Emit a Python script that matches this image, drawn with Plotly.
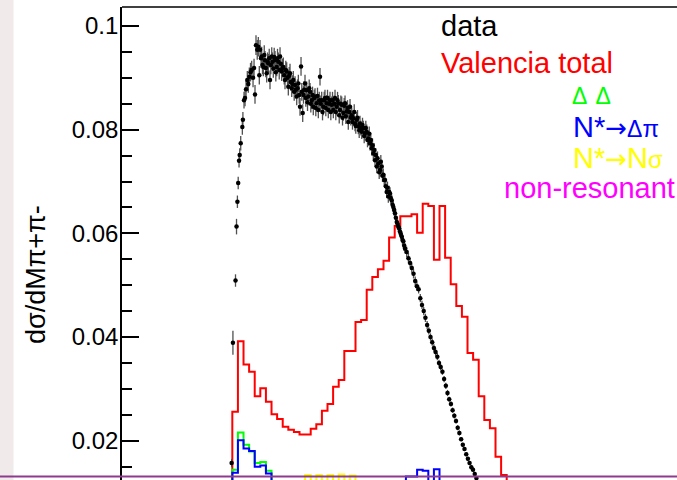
import plotly.graph_objects as go

# ---------------- data ----------------
# measured points: invariant mass M(pi+pi-) [MeV], dsigma/dM, stat. error
data_x = [278.8, 281.1, 285.7, 287.5, 289.1, 290.5, 292.0, 293.2, 295.0, 297.9,
          298.9, 300.9, 302.7, 304.5, 306.8, 308.6, 310.4, 312.5, 314.6, 317.0,
          318.8, 320.5, 322.3, 324.5, 326.4, 328.2, 329.5, 331.3, 333.9, 337.0,
          339.8, 342.9, 345.9, 347.3, 350.4, 353.2, 356.3, 359.3, 362.1, 365.2,
          368.2, 371.1, 374.1, 377.1, 380.0, 383.0, 386.1, 388.9, 392.0, 395.0,
          397.9, 400.9, 402.7, 405.7, 407.1, 409.8, 412.9, 415.7, 418.8, 421.8,
          424.6, 427.7, 430.7, 433.6, 436.6, 439.6, 442.5, 445.5, 448.6, 451.4,
          454.5, 457.5, 460.4, 463.4, 466.4, 469.3, 472.3, 475.4, 478.2, 481.3,
          484.3, 487.1, 490.2, 493.2, 496.1, 499.1, 502.1, 505.0, 508.0, 511.1,
          513.9, 517.0, 520.0, 522.9, 525.9, 528.9, 531.8, 534.8, 537.9, 540.7,
          543.8, 546.8, 549.6, 552.7, 555.7, 558.6, 561.6, 564.6, 567.5, 570.5,
          573.6, 576.4, 579.5, 582.5, 585.4, 588.4, 591.4, 594.5, 597.5, 600.5,
          603.6, 606.6, 609.6, 612.7, 615.7, 618.7, 621.8, 624.8, 627.9, 630.9,
          633.9, 637.0, 640.0, 643.0, 646.1, 649.1, 652.1, 655.2, 658.2, 661.3,
          664.3, 667.3, 670.4, 673.4, 676.4, 679.5, 682.5, 685.5, 688.6, 691.6,
          694.6, 697.7, 700.7, 703.7, 706.8, 709.8, 712.9, 715.9,
          # points lying between the ones above (dense plateau region)
          332.5, 335.4, 338.4, 341.4, 344.3, 348.8, 351.8, 354.8, 357.7, 360.7,
          363.8, 366.6, 369.6, 372.7, 375.5, 378.6, 381.6, 384.5, 387.5, 390.5,
          393.4, 396.4, 399.5, 404.1, 408.4, 411.3, 414.3, 417.3, 420.2, 423.2,
          426.3, 429.1, 432.1, 435.2, 438.0, 441.1, 444.1, 447.0, 450.0, 453.0,
          455.9, 458.9, 462.0, 464.8, 467.9, 470.9, 473.8, 476.8, 479.8, 482.7,
          485.7, 488.8, 491.6, 494.6, 497.7, 500.5, 503.6, 506.6, 509.5, 512.5,
          515.5, 518.4, 521.4, 524.5, 527.3, 530.4, 533.4, 536.3, 539.3, 542.3,
          545.2, 548.2, 551.3, 554.1, 557.1, 560.2, 563.0, 566.1, 569.1, 572.0,
          575.0, 578.0, 580.9, 583.9, 587.0]
data_y = [0.0157, 0.0389, 0.0509, 0.0613, 0.0661, 0.0697, 0.0740, 0.0751, 0.0774, 0.0805,
          0.0819, 0.0857, 0.0861, 0.0878, 0.0896, 0.0888, 0.0902, 0.0911, 0.0915, 0.0900,
          0.0919, 0.0868, 0.0963, 0.0954, 0.0960, 0.0905, 0.0954, 0.0938, 0.0925, 0.0944,
          0.0919, 0.0931, 0.0938, 0.0896, 0.0941, 0.0918, 0.0934, 0.0921, 0.0931, 0.0941,
          0.0912, 0.0921, 0.0896, 0.0912, 0.0883, 0.0909, 0.0880, 0.0896, 0.0886, 0.0864,
          0.0889, 0.0844, 0.0922, 0.0832, 0.0867, 0.0889, 0.0876, 0.0864, 0.0873, 0.0857,
          0.0844, 0.0864, 0.0851, 0.0838, 0.0902, 0.0857, 0.0844, 0.0861, 0.0851, 0.0838,
          0.0857, 0.0848, 0.0838, 0.0861, 0.0844, 0.0851, 0.0838, 0.0848, 0.0832, 0.0851,
          0.0835, 0.0815, 0.0844, 0.0828, 0.0822, 0.0812, 0.0819, 0.0806, 0.0812, 0.0796,
          0.0803, 0.0793, 0.0796, 0.0783, 0.0774, 0.0764, 0.0754, 0.0741, 0.0729, 0.0735,
          0.0722, 0.0729, 0.0713, 0.0703, 0.0680, 0.0671, 0.0677, 0.0664, 0.0651, 0.0639,
          0.0622, 0.0613, 0.0603, 0.0594, 0.0585, 0.0571, 0.0564, 0.0552, 0.0543, 0.0533,
          0.0522, 0.0508, 0.0498, 0.0492, 0.0475, 0.0462, 0.0450, 0.0437, 0.0423, 0.0412,
          0.0400, 0.0390, 0.0379, 0.0371, 0.0362, 0.0350, 0.0342, 0.0333, 0.0319, 0.0306,
          0.0292, 0.0280, 0.0271, 0.0259, 0.0248, 0.0238, 0.0225, 0.0215, 0.0203, 0.0192,
          0.0184, 0.0174, 0.0165, 0.0157, 0.0149, 0.0144, 0.0136, 0.0128,
          0.0941, 0.0921, 0.0934, 0.0909, 0.0928, 0.0925, 0.0931, 0.0940, 0.0911, 0.0938,
          0.0915, 0.0927, 0.0919, 0.0905, 0.0915, 0.0900, 0.0904, 0.0892, 0.0888, 0.0873,
          0.0877, 0.0880, 0.0867, 0.0873, 0.0877, 0.0861, 0.0853, 0.0880, 0.0850, 0.0867,
          0.0861, 0.0842, 0.0865, 0.0857, 0.0850, 0.0834, 0.0857, 0.0842, 0.0861, 0.0850,
          0.0834, 0.0857, 0.0850, 0.0834, 0.0857, 0.0828, 0.0850, 0.0823, 0.0846, 0.0826,
          0.0842, 0.0834, 0.0823, 0.0815, 0.0834, 0.0807, 0.0823, 0.0799, 0.0803, 0.0809,
          0.0788, 0.0803, 0.0780, 0.0792, 0.0780, 0.0770, 0.0761, 0.0751, 0.0745, 0.0718,
          0.0738, 0.0711, 0.0703, 0.0691, 0.0688, 0.0680, 0.0668, 0.0655, 0.0645, 0.0630,
          0.0618, 0.0610, 0.0599, 0.0587, 0.0576]
data_err = [0.0008, 0.0023, 0.0012, 0.0015, 0.0012, 0.0012, 0.0013, 0.0013, 0.0014, 0.0015,
            0.0015, 0.0016, 0.0016, 0.0017, 0.0017, 0.0017, 0.0018, 0.0018, 0.0018, 0.0018,
            0.0018, 0.0018, 0.0019, 0.0019, 0.0019, 0.0018, 0.0019, 0.0019, 0.0018, 0.0019,
            0.0018, 0.0018, 0.0018, 0.0018, 0.0018, 0.0018, 0.0018, 0.0018, 0.0018, 0.0018,
            0.0018, 0.0018, 0.0018, 0.0018, 0.0017, 0.0018, 0.0017, 0.0017, 0.0017, 0.0017,
            0.0017, 0.0017, 0.0018, 0.0017, 0.0017, 0.0017, 0.0017, 0.0017, 0.0017, 0.0017,
            0.0016, 0.0016, 0.0016, 0.0016, 0.0017, 0.0016, 0.0016, 0.0016, 0.0016, 0.0016,
            0.0016, 0.0016, 0.0016, 0.0016, 0.0016, 0.0016, 0.0016, 0.0016, 0.0015, 0.0015,
            0.0015, 0.0015, 0.0015, 0.0015, 0.0015, 0.0015, 0.0015, 0.0015, 0.0015, 0.0014,
            0.0014, 0.0014, 0.0014, 0.0014, 0.0014, 0.0014, 0.0013, 0.0013, 0.0013, 0.0013,
            0.0013, 0.0013, 0.0012, 0.0012, 0.0012, 0.0012, 0.0012, 0.0011, 0.0011, 0.0011,
            0.0011, 0.0011, 0.0010, 0.0010, 0.0010, 0.0010, 0.0010, 0.0010, 0.0009, 0.0009,
            0.0009, 0.0009, 0.0009, 0.0008, 0.0008, 0.0008, 0.0008, 0.0008, 0.0008, 0.0007,
            0.0007, 0.0007, 0.0007, 0.0007, 0.0007, 0.0006, 0.0006, 0.0006, 0.0006, 0.0006,
            0.0006, 0.0005, 0.0005, 0.0005, 0.0005, 0.0005, 0.0005, 0.0005, 0.0004, 0.0004,
            0.0004, 0.0004, 0.0004, 0.0004, 0.0004, 0.0004, 0.0004, 0.0004,
            0.0019, 0.0018, 0.0018, 0.0018, 0.0018, 0.0018, 0.0018, 0.0018, 0.0018, 0.0018,
            0.0018, 0.0018, 0.0018, 0.0018, 0.0018, 0.0017, 0.0017, 0.0017, 0.0017, 0.0017,
            0.0017, 0.0017, 0.0017, 0.0017, 0.0017, 0.0017, 0.0017, 0.0017, 0.0017, 0.0016,
            0.0016, 0.0016, 0.0016, 0.0016, 0.0016, 0.0016, 0.0016, 0.0016, 0.0016, 0.0016,
            0.0016, 0.0016, 0.0016, 0.0016, 0.0016, 0.0016, 0.0016, 0.0015, 0.0015, 0.0015,
            0.0015, 0.0015, 0.0015, 0.0015, 0.0015, 0.0015, 0.0015, 0.0015, 0.0014, 0.0014,
            0.0014, 0.0014, 0.0014, 0.0014, 0.0014, 0.0013, 0.0013, 0.0013, 0.0013, 0.0013,
            0.0013, 0.0012, 0.0012, 0.0012, 0.0012, 0.0012, 0.0011, 0.0011, 0.0011, 0.0011,
            0.0011, 0.0010, 0.0010, 0.0010, 0.0010]

# model histograms: 10 MeV bins, first bin starts at bin_start
bin_start = 270.0
bin_width = 10.0
valencia_total = [0.0, 0.0256, 0.0392, 0.0347, 0.0333, 0.0286, 0.0301, 0.0275, 0.0251, 0.0242,
                  0.0227, 0.0221, 0.0217, 0.0212, 0.0212, 0.0223, 0.0232, 0.0258, 0.0271, 0.0304,
                  0.0317, 0.0373, 0.0373, 0.0429, 0.0433, 0.0491, 0.0516, 0.0531, 0.0547, 0.0592,
                  0.0614, 0.0633, 0.0633, 0.0637, 0.0601, 0.0657, 0.0653, 0.0549, 0.0653, 0.0553,
                  0.0502, 0.0460, 0.0439, 0.0369, 0.0356, 0.0286, 0.0240, 0.0224, 0.0169, 0.0134,
                  0.0105, 0.0080]
delta_delta = [0.0, 0.0144, 0.0216, 0.0192, 0.0179, 0.0157, 0.0159, 0.0142, 0.0110]
nstar_delta_pi = [0.0, 0.0138, 0.0201, 0.0185, 0.0180, 0.0150, 0.0152, 0.0137, 0.0110,
                  0.0110, 0.0110, 0.0110, 0.0110, 0.0110, 0.0110, 0.0110, 0.0110, 0.0110,
                  0.0110, 0.0110, 0.0110, 0.0110, 0.0110, 0.0110, 0.0110, 0.0110, 0.0110,
                  0.0110, 0.0110, 0.0110, 0.0110, 0.0118, 0.0131, 0.0131, 0.0144, 0.0142,
                  0.0122, 0.0145, 0.0118]
nsigma_start = 400.0
nstar_n_sigma = [0.0120, 0.0134, 0.0122, 0.0134, 0.0122, 0.0134, 0.0122, 0.0135, 0.0122,
                 0.0133, 0.0120]

legend_labels = ["data", "Valencia total", "Δ Δ", "N*→Δπ", "N*→Nσ", "non-resonant"]
legend_colors = ["#000000", "#ff0000", "#00ff00", "#0000ff", "#ffff00", "#ff00ff"]

y_ticks = [0.02, 0.04, 0.06, 0.08, 0.1]
y_ticktext = ["0.02", "0.04", "0.06", "0.08", "0.1"]
y_range = [0.012423, 0.103665]
x_range = [83.0, 1074.1]

FONT = "Liberation Sans, Arial, Helvetica, sans-serif"


def step(start, width, vals):
    xs = [start + width * i for i in range(len(vals) + 1)]
    ys = list(vals) + [vals[-1]]
    return xs, ys


fig = go.Figure()

for vals, start, color in [
    (valencia_total, bin_start, "#ff0000"),
    (delta_delta, bin_start, "#00ff00"),
    (nstar_delta_pi, bin_start, "#0000ff"),
    (nstar_n_sigma, nsigma_start, "#ffff00"),
]:
    xs, ys = step(start, bin_width, vals)
    fig.add_trace(go.Scatter(x=xs, y=ys, mode="lines", line=dict(color=color, width=2, shape="hv"),
                             showlegend=False, hoverinfo="skip"))

fig.add_trace(go.Scatter(
    x=data_x, y=data_y, mode="markers",
    marker=dict(color="black", size=4.5, symbol="circle"),
    error_y=dict(type="data", array=data_err, thickness=1.3, width=0, color="#505050"),
    error_x=dict(type="constant", value=1.5, thickness=1.3, width=0, color="black"),
    showlegend=False))

# plot area geometry (pixels) for placing texts in paper coordinates
L, T, W, H = 122, 7, 555, 473


def xp(px):
    return (px - L) / W


def yp(py):
    return (T + H - py) / H


shapes = [
    dict(type="rect", xref="paper", yref="paper", x0=xp(0), x1=xp(13.5), y0=yp(480), y1=yp(0),
         fillcolor="#f0eaea", line=dict(width=0), layer="below"),
    dict(type="line", xref="paper", yref="paper", x0=0, x1=1.01, y0=1, y1=1,
         line=dict(color="black", width=1.5)),
    dict(type="line", xref="paper", yref="paper", x0=xp(0), x1=1.01, y0=yp(476.6), y1=yp(476.6),
         line=dict(color="#8e3b8e", width=2)),
]


def greek(s):
    return (s.replace("Δ", '<span style="font-size:23px">Δ</span>')
             .replace("π", '<span style="font-size:24px">π</span>')
             .replace("σ", '<span style="font-size:24px">σ</span>')
             .replace("→", '<span style="font-family:DejaVu Sans;font-size:26px">→</span>'))


ann_pos = [
    (439, 26, "left"),
    (439, 63, "left"),
    (570, 94, "left"),
    (571, 127, "left"),
    (571, 158, "left"),
    (677, 188, "right"),
]
annotations = []
for (px, py, anchor), lab, col in zip(ann_pos, legend_labels, legend_colors):
    annotations.append(dict(xref="paper", yref="paper", x=xp(px), y=yp(py), text=greek(lab),
                            showarrow=False, xanchor=anchor, yanchor="middle",
                            font=dict(family=FONT, size=29, color=col)))
annotations.append(dict(xref="paper", yref="paper", x=xp(36), y=yp(275), text="dσ/dMπ+π-",
                        textangle=-90, showarrow=False, xanchor="center", yanchor="middle",
                        font=dict(family=FONT, size=27, color="black")))

fig.update_layout(
    width=677, height=480,
    margin=dict(l=L, r=0, t=T, b=0, pad=0),
    paper_bgcolor="white", plot_bgcolor="white",
    shapes=shapes, annotations=annotations,
    xaxis=dict(range=x_range, showline=False, showticklabels=False, ticks="",
               showgrid=False, zeroline=False),
    yaxis=dict(range=y_range, showline=True, linecolor="black", linewidth=1.6,
               ticks="inside", ticklen=17, tickwidth=1.5, tickcolor="black",
               tickvals=y_ticks, ticktext=y_ticktext, ticklabelstandoff=-3,
               minor=dict(ticks="inside", ticklen=10, tickwidth=1.5, tickcolor="black",
                          dtick=0.005, tick0=0),
               tickfont=dict(family=FONT, size=24, color="black"),
               showgrid=False, zeroline=False),
)

fig.write_html("out.html")
